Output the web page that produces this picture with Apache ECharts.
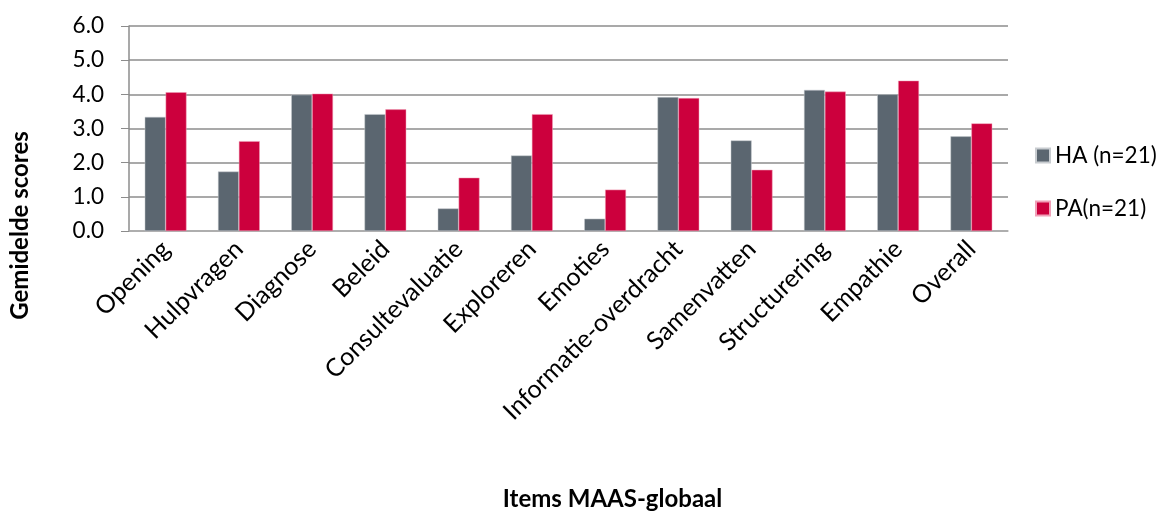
<!DOCTYPE html>
<html>
<head>
<meta charset="utf-8">
<script src="https://cdn.jsdelivr.net/npm/echarts@6/dist/echarts.min.js"></script>
<style>html,body{margin:0;padding:0;background:#fff}#c{width:1165px;height:512px}</style>
</head>
<body>
<div id="c"></div>
<script>
const categories = ['Opening','Hulpvragen','Diagnose','Beleid','Consultevaluatie','Exploreren','Emoties','Informatie-overdracht','Samenvatten','Structurering','Empathie','Overall'];
const seriesNames = ['HA (n=21)','PA(n=21)'];
const haValues = [3.34, 1.74, 3.99, 3.42, 0.66, 2.21, 0.36, 3.92, 2.65, 4.13, 4.00, 2.77];
const paValues = [4.06, 2.63, 4.02, 3.56, 1.56, 3.42, 1.21, 3.89, 1.79, 4.08, 4.40, 3.15];
const yTicks = [0, 1, 2, 3, 4, 5, 6];

const FONT = 'Lato, "Open Sans", sans-serif';
const chart = echarts.init(document.getElementById('c'), null, {renderer: 'canvas'});
chart.setOption({
  animation: false,
  backgroundColor: '#ffffff',
  textStyle: {fontFamily: FONT},
  legend: {
    orient: 'vertical',
    left: 1030,
    top: 139,
    itemWidth: 14,
    itemHeight: 14,
    itemGap: 30,
    icon: 'rect',
    textStyle: {fontSize: 22.5, color: '#000', fontFamily: FONT},
    data: seriesNames
  },
  grid: {left: 128, right: 157, top: 26, bottom: 278, containLabel: false},
  xAxis: {
    type: 'category',
    data: categories,
    axisLine: {lineStyle: {color: '#b0b0b0', width: 1.5}},
    axisTick: {show: false},
    axisLabel: {rotate: 45, fontSize: 25, color: '#000', margin: 14, interval: 0, fontFamily: FONT},
    name: 'Items MAAS-globaal',
    nameLocation: 'middle',
    nameGap: 256,
    nameTextStyle: {fontSize: 24, fontWeight: 'bold', color: '#000', padding: [0, 0, 0, 88], fontFamily: FONT}
  },
  yAxis: {
    type: 'value',
    min: 0,
    max: 6,
    interval: 1,
    axisLine: {show: true, lineStyle: {color: '#8c8c8c', width: 1.5}},
    axisTick: {show: true, length: 8, lineStyle: {color: '#8c8c8c'}},
    splitLine: {lineStyle: {color: '#8c8c8c', width: 1.5}},
    axisLabel: {fontSize: 22.5, color: '#000', margin: 25, fontFamily: FONT,
      formatter: v => yTicks.includes(v) ? v.toFixed(1) : ''},
    name: 'Gemidelde scores',
    nameLocation: 'middle',
    nameGap: 97,
    nameRotate: 90,
    nameTextStyle: {fontSize: 24, fontWeight: 'bold', color: '#000', fontFamily: FONT, padding: [0, 0, 0, -194]}
  },
  series: [
    {name: seriesNames[0], type: 'bar', data: haValues, barGap: '0%', barCategoryGap: '43%',
     itemStyle: {color: '#5b6670', borderColor: '#c8ccd0', borderWidth: 0.5}},
    {name: seriesNames[1], type: 'bar', data: paValues,
     itemStyle: {color: '#cc003d', borderColor: '#f0a0b8', borderWidth: 0.5}}
  ]
});
</script>
</body>
</html>
